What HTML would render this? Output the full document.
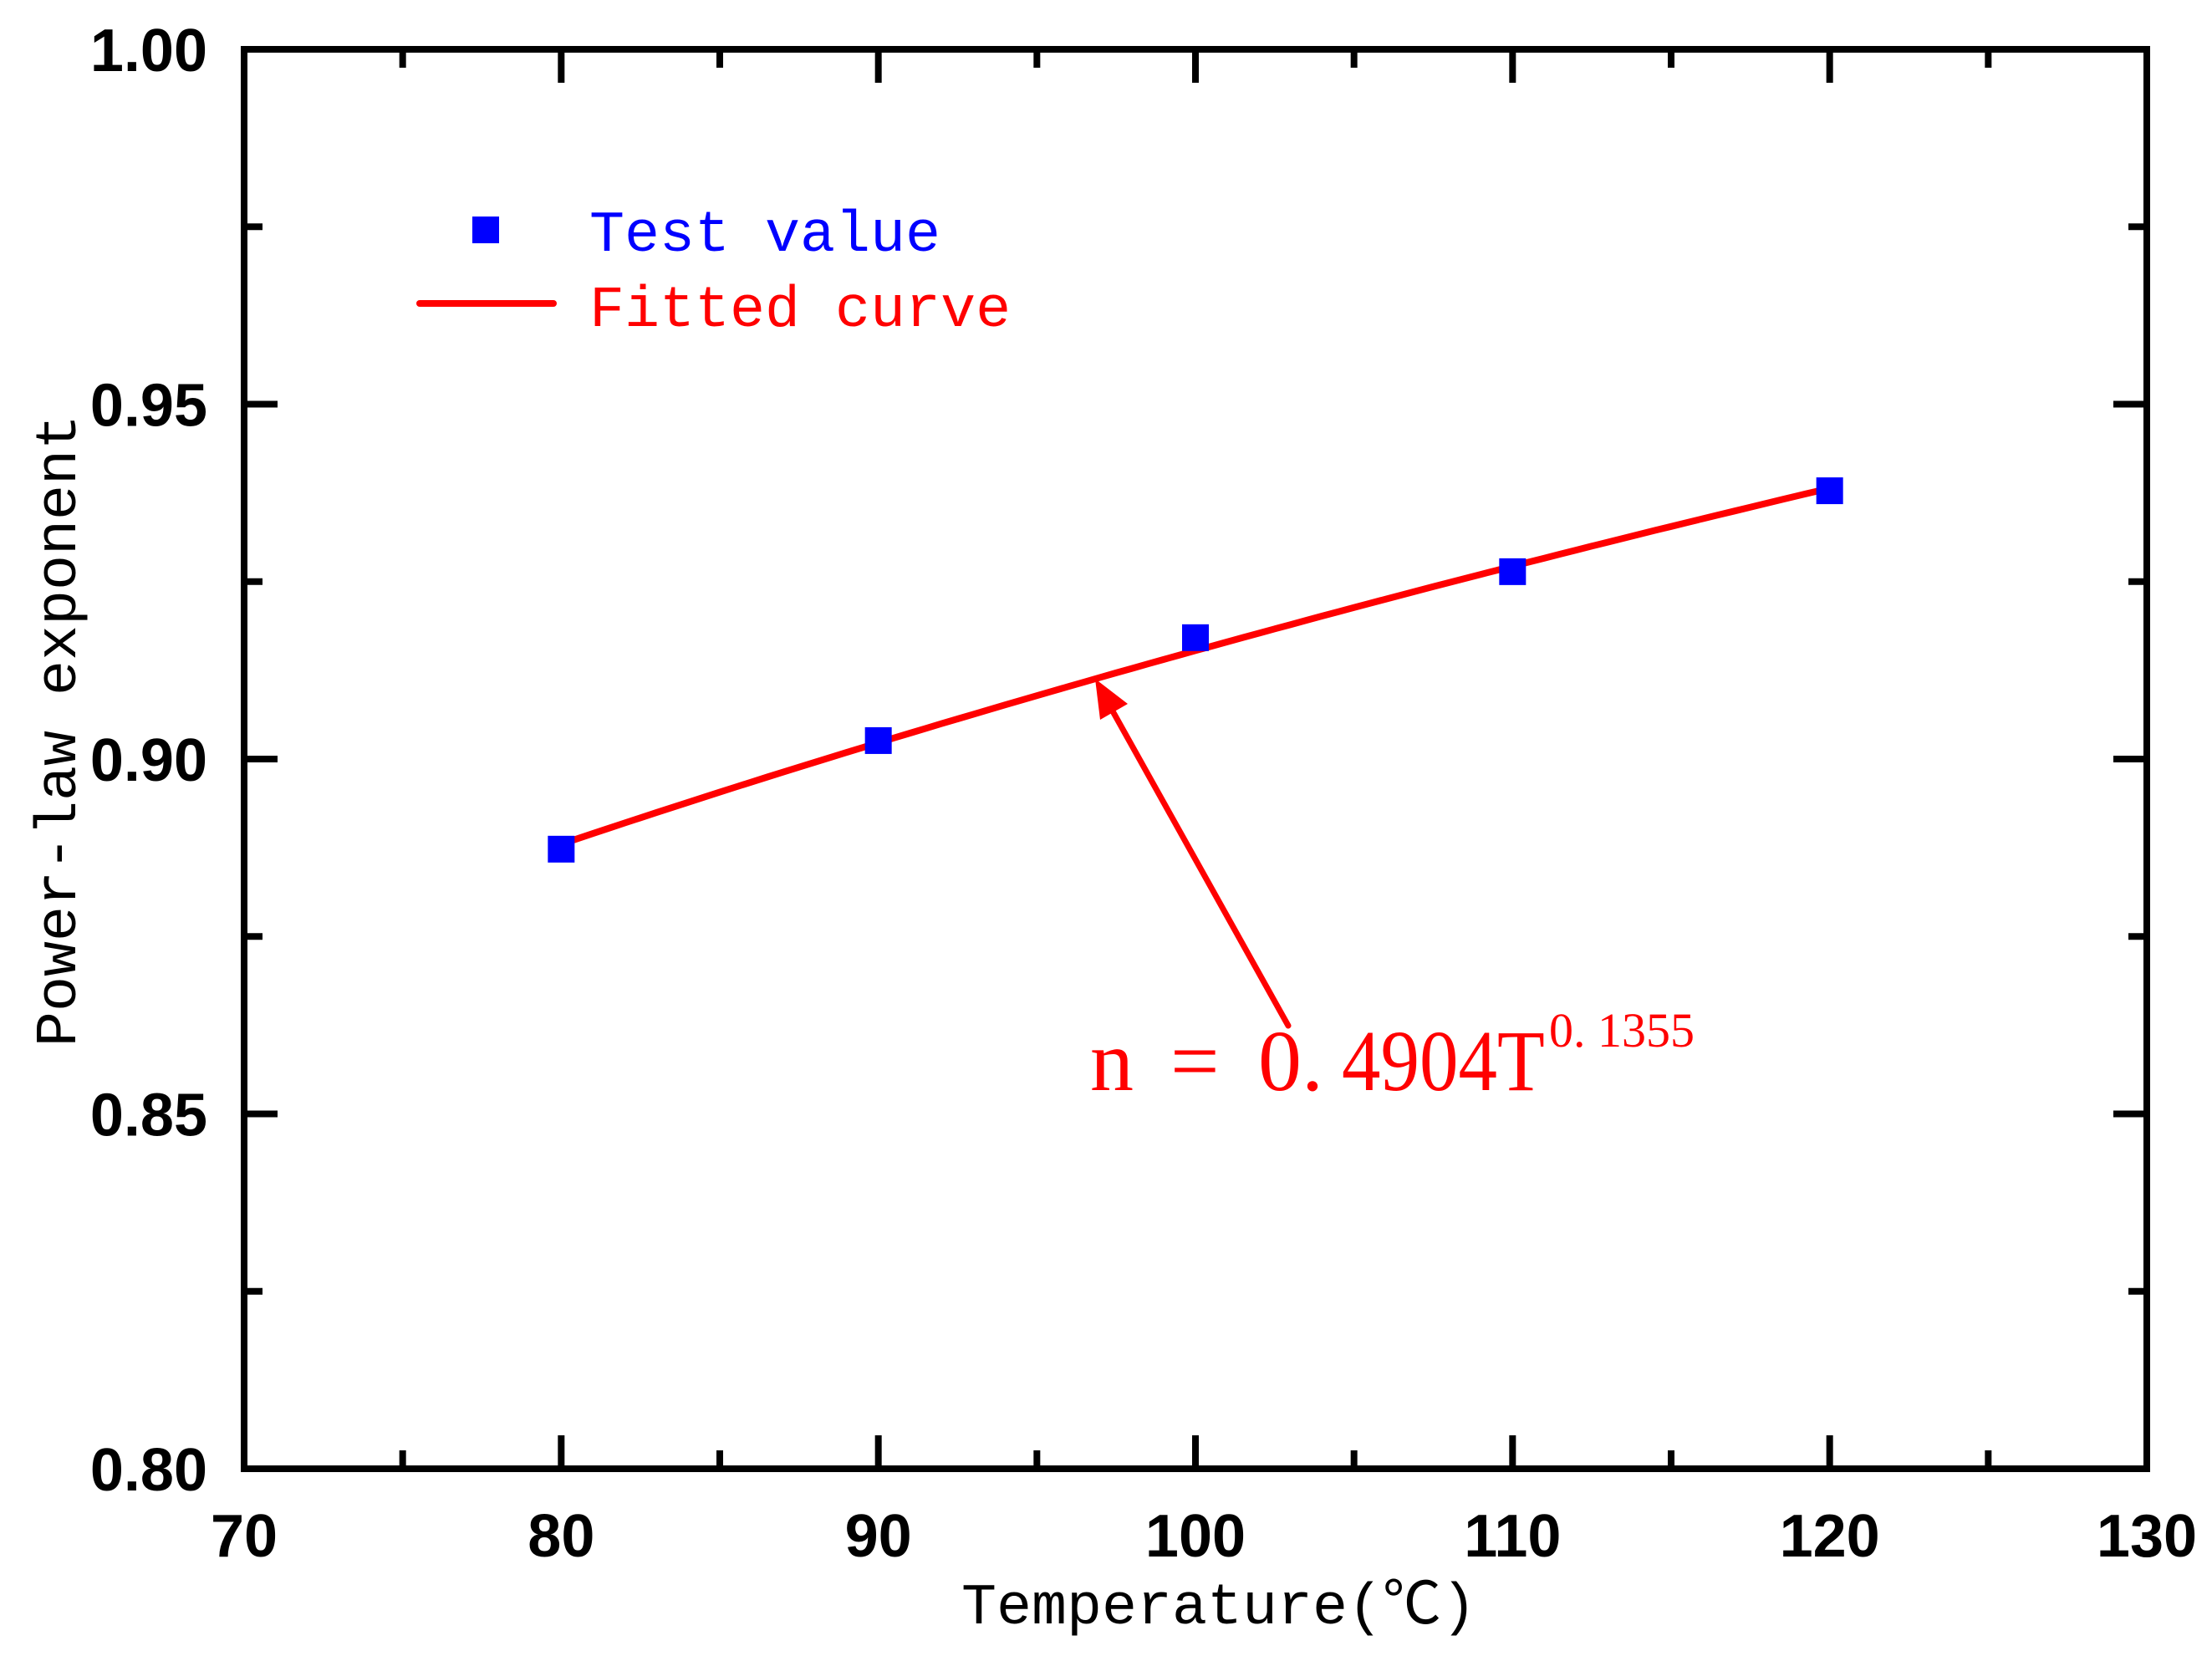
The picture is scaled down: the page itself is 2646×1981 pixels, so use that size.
<!DOCTYPE html>
<html><head><meta charset="utf-8"><style>
html,body{margin:0;padding:0;background:#fff;}
svg{display:block;}
</style></head><body>
<svg id="chart" width="2646" height="1981" viewBox="0 0 2646 1981" xmlns="http://www.w3.org/2000/svg">
<rect x="0" y="0" width="2646" height="1981" fill="#fff"/>
<g id="ticks"></g>
<g id="labels" font-family="Liberation Sans, Arial, sans-serif" font-weight="bold" font-size="72"></g>
<polyline id="fit" fill="none" stroke="#ff0000" stroke-width="8" stroke-linecap="round"/>
<g id="points"></g>
<rect x="292" y="59" width="2276" height="1698" fill="none" stroke="#000" stroke-width="8"/>
<text transform="translate(90,874) rotate(-90)" text-anchor="middle" font-family="Liberation Mono, monospace" font-size="70" fill="#000">Power-law exponent</text>
<text x="1458" y="1942" text-anchor="middle" font-family="Liberation Mono, 'Noto Sans CJK SC', monospace" font-size="70" fill="#000">Temperature(℃)</text>
<g font-family="Liberation Mono, monospace" font-size="70">
<rect x="565" y="259" width="32" height="32" fill="#0000ff"/>
<text x="705" y="300" fill="#0000ff">Test value</text>
<line x1="502" y1="363" x2="662" y2="363" stroke="#ff0000" stroke-width="8" stroke-linecap="round"/>
<text x="705" y="390" fill="#ff0000">Fitted curve</text>
</g>
<g font-family="Liberation Serif, serif" fill="#ff0000">
<line x1="1541" y1="1227" x2="1325" y2="840" stroke="#ff0000" stroke-width="7" stroke-linecap="round"/>
<polygon points="1310,812 1349,842 1316,861" fill="#ff0000"/>
<text x="1304" y="1304" font-size="104">n</text>
<text x="1400" y="1304" font-size="104">=</text>
<text x="1505" y="1304" font-size="104">0.</text>
<text transform="translate(1605,1304) scale(1,1.12)" x="0" y="0" font-size="93">4904T</text>
<text x="1853" y="1252" font-size="58">0. 1355</text>
</g>
</svg>
<script>
const temps = [80, 90, 100, 110, 120];
const exponents = [0.8873, 0.9026, 0.9171, 0.9264, 0.9378];
const fitCoef = [0.4904, 0.1355];
const xTicks = [70, 80, 90, 100, 110, 120, 130];
const yTicks = [0.80, 0.85, 0.90, 0.95, 1.00];
const xTickLabels = ['70', '80', '90', '100', '110', '120', '130'];
const yTickLabels = ['0.80', '0.85', '0.90', '0.95', '1.00'];

const X0 = 292, X1 = 2568, Y0 = 1757, Y1 = 59;
const xMin = 70, xMax = 130, yMin = 0.80, yMax = 1.00;
function sx(v) { return X0 + (v - xMin) / (xMax - xMin) * (X1 - X0); }
function sy(v) { return Y0 - (v - yMin) / (yMax - yMin) * (Y0 - Y1); }
const NS = 'http://www.w3.org/2000/svg';
function mk(tag, attrs, parent) {
  const e = document.createElementNS(NS, tag);
  for (const k in attrs) e.setAttribute(k, attrs[k]);
  parent.appendChild(e);
  return e;
}
const tg = document.getElementById('ticks');
const lg = document.getElementById('labels');
const MAJ = 40, MIN = 22, TW = 8;
for (let i = 0; i < xTicks.length; i++) {
  const x = sx(xTicks[i]);
  const a = mk('line', {x1: x, y1: Y0, x2: x, y2: Y0 - MAJ, stroke: '#000', 'stroke-width': TW}, tg);
  
  
  const b = mk('line', {x1: x, y1: Y1, x2: x, y2: Y1 + MAJ, stroke: '#000', 'stroke-width': TW}, tg);
  
  
  const t = mk('text', {x: x, y: 1862, 'text-anchor': 'middle'}, lg);
  t.textContent = xTickLabels[i];
  
  
  if (i < xTicks.length - 1) {
    const xm = sx((xTicks[i] + xTicks[i + 1]) / 2);
    const c = mk('line', {x1: xm, y1: Y0, x2: xm, y2: Y0 - MIN, stroke: '#000', 'stroke-width': TW}, tg);
    
    
    const d = mk('line', {x1: xm, y1: Y1, x2: xm, y2: Y1 + MIN, stroke: '#000', 'stroke-width': TW}, tg);
    
    
  }
}
for (let i = 0; i < yTicks.length; i++) {
  const y = sy(yTicks[i]);
  const a = mk('line', {x1: X0, y1: y, x2: X0 + MAJ, y2: y, stroke: '#000', 'stroke-width': TW}, tg);
  
  
  const b = mk('line', {x1: X1, y1: y, x2: X1 - MAJ, y2: y, stroke: '#000', 'stroke-width': TW}, tg);
  
  
  const t = mk('text', {x: 248, y: y + 26, 'text-anchor': 'end'}, lg);
  t.textContent = yTickLabels[i];
  
  
  if (i < yTicks.length - 1) {
    const ym = sy((yTicks[i] + yTicks[i + 1]) / 2);
    const c = mk('line', {x1: X0, y1: ym, x2: X0 + MIN, y2: ym, stroke: '#000', 'stroke-width': TW}, tg);
    
    
    const d = mk('line', {x1: X1, y1: ym, x2: X1 - MIN, y2: ym, stroke: '#000', 'stroke-width': TW}, tg);
    
    
  }
}
const pts = [];
const tStart = temps[0], tEnd = temps[temps.length - 1];
for (let k = 0; k <= 80; k++) {
  const T = tStart + (tEnd - tStart) * k / 80;
  pts.push(sx(T).toFixed(1) + ',' + sy(fitCoef[0] * Math.pow(T, fitCoef[1])).toFixed(1));
}
document.getElementById('fit').setAttribute('points', pts.join(' '));
const pg = document.getElementById('points');
for (let i = 0; i < temps.length; i++) {
  const r = mk('rect', {x: sx(temps[i]) - 16, y: sy(exponents[i]) - 16, width: 32, height: 32, fill: '#0000ff'}, pg);
  
  
}
</script>
</body></html>
